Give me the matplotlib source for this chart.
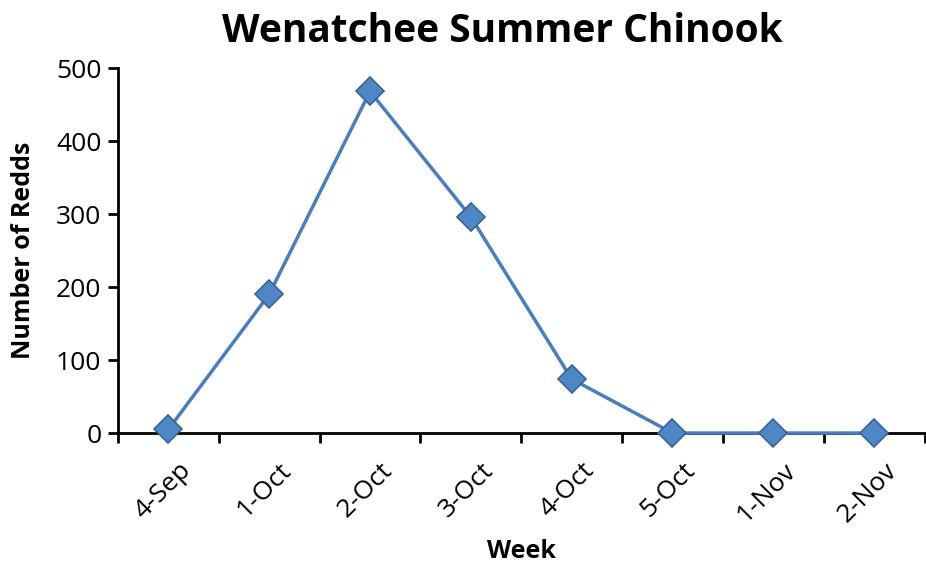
import numpy as np
import matplotlib.pyplot as plt
import matplotlib.transforms as mtransforms

plt.rcParams['font.family'] = ['Open Sans', 'DejaVu Sans']

weeks = ['4-Sep', '1-Oct', '2-Oct', '3-Oct', '4-Oct', '5-Oct', '1-Nov', '2-Nov']
redds = [5, 190, 468, 296, 74, 0, 0, 0]

fig = plt.figure(figsize=(9.26, 5.67), dpi=100)
ax = fig.add_axes([0.1274, 0.2363, 0.871, 0.6437])

x = np.arange(len(weeks))
ax.plot(x, redds, c='#4a7ebb', lw=2.5, marker='D', ms=14,
        mfc='#4f86c6', mec='#3a6394', mew=1.2, zorder=3, clip_on=False)

ax.set_xlim(-0.5, len(weeks) - 0.5)
ax.set_ylim(0, 500)
ax.set_yticks(range(0, 501, 100))
ax.tick_params(axis='y', labelsize=19, width=2, length=7, direction='out', pad=5)
ax.set_xticks(x)
ax.set_xticklabels(weeks, rotation=45, ha='right', rotation_mode='anchor', fontsize=19)
ax.set_xticks(np.arange(-0.5, len(weeks)), minor=True)
ax.tick_params(axis='x', which='major', length=0, pad=18)
ax.tick_params(axis='x', which='minor', width=2, length=7, direction='out')

# shift the rotated labels a little to the right, like the original
offset = mtransforms.ScaledTranslation(10 / 100, 0, fig.dpi_scale_trans)
for lab in ax.get_xticklabels():
    lab.set_transform(lab.get_transform() + offset)

for s in ['top', 'right']:
    ax.spines[s].set_visible(False)
ax.spines['left'].set_linewidth(2)
ax.spines['bottom'].set_linewidth(2)

ax.set_ylabel('Number of Redds', fontsize=18, fontweight='bold', labelpad=14)
ax.set_xlabel('Week', fontsize=18, fontweight='bold', labelpad=9)
fig.text(502 / 926, 1 - 32 / 567, 'Wenatchee Summer Chinook', fontsize=28,
         fontweight='bold', ha='center', va='center')

plt.savefig('out.png', dpi=100)
